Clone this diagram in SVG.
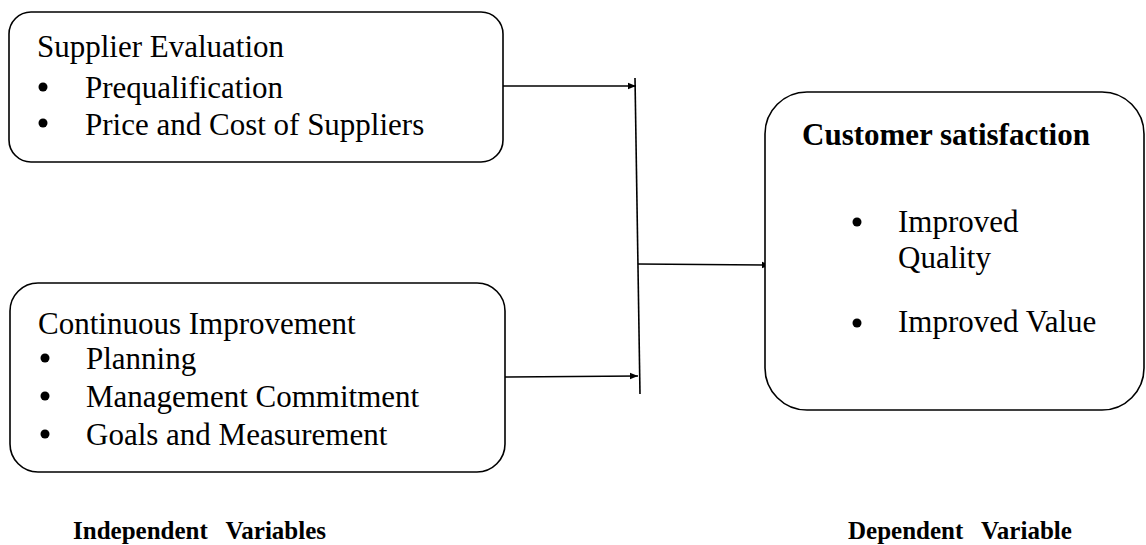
<svg xmlns="http://www.w3.org/2000/svg" width="1146" height="545" viewBox="0 0 1146 545">
<defs>
<style>
.box{fill:#fff;stroke:#000;stroke-width:1.6}
.t{font-family:"Liberation Serif","Times New Roman",serif;font-size:31px;fill:#000}
.b{font-weight:bold}
.lab{font-family:"Liberation Serif","Times New Roman",serif;font-size:25px;font-weight:bold;word-spacing:12px;fill:#000}
.ln{stroke:#000;stroke-width:1.6;fill:none}
</style>
<marker id="ah" viewBox="0 0 10 10" refX="10" refY="5" markerWidth="9" markerHeight="8" markerUnits="userSpaceOnUse" orient="auto">
<path d="M0,1 L10,5 L0,9 z" fill="#000"/>
</marker>
</defs>
<g id="connectors">
<line class="ln" x1="635" y1="78" x2="640" y2="394"/>
<line class="ln" x1="503" y1="86" x2="636" y2="86" marker-end="url(#ah)"/>
<line class="ln" x1="505" y1="377" x2="638" y2="376" marker-end="url(#ah)"/>
<line class="ln" x1="638" y1="264" x2="770" y2="265" marker-end="url(#ah)"/>
</g>
<g id="supplier-evaluation">
<rect class="box" x="9" y="12" width="494" height="150" rx="22"/>
<text class="t" x="37" y="57">Supplier Evaluation</text>
<circle cx="43" cy="87" r="4.5"/>
<text class="t" x="85" y="98">Prequalification</text>
<circle cx="43" cy="123" r="4.5"/>
<text class="t" x="85" y="135">Price and Cost of Suppliers</text>
</g>
<g id="continuous-improvement">
<rect class="box" x="10" y="283" width="495" height="189" rx="28"/>
<text class="t" x="38" y="334">Continuous Improvement</text>
<circle cx="45" cy="358" r="4.5"/>
<text class="t" x="86" y="369">Planning</text>
<circle cx="45" cy="396" r="4.5"/>
<text class="t" x="86" y="407">Management Commitment</text>
<circle cx="45" cy="434" r="4.5"/>
<text class="t" x="86" y="445">Goals and Measurement</text>
</g>
<g id="customer-satisfaction">
<rect class="box" x="765" y="92" width="379" height="318" rx="42"/>
<text class="t b" x="802" y="145">Customer satisfaction</text>
<circle cx="857" cy="222" r="4.5"/>
<text class="t" x="898" y="232">Improved</text>
<text class="t" x="898" y="268">Quality</text>
<circle cx="857" cy="323" r="4.5"/>
<text class="t" x="898" y="332">Improved Value</text>
</g>
<g id="labels">
<text class="lab" x="73" y="539">Independent Variables</text>
<text class="lab" x="848" y="539">Dependent Variable</text>
</g>
</svg>
